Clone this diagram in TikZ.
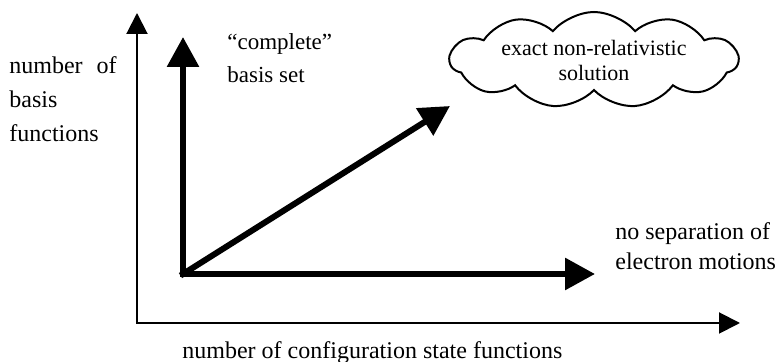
\documentclass[tikz,border=0pt]{standalone}
\usepackage{fontspec}
\setmainfont{Liberation Serif}
\usepackage{tikz}
\usetikzlibrary{arrows.meta,shapes.symbols}

\begin{document}
\begin{tikzpicture}[%
  x=0.5pt, y=-0.5pt,
  thinaxis/.style={line width=1pt,
    {Triangle[length=10.5pt,width=10.5pt]}-{Triangle[length=10.5pt,width=10.5pt]}},
  thickarrow/.style={line width=3pt, line cap=rect,
    -{Triangle[length=15pt,width=15.5pt]}},
  lbl/.style={inner sep=0pt, align=left, anchor=base west,
    font=\fontsize{12}{17}\selectfont}]
  \useasboundingbox (0,0) rectangle (778,362);
  % axes
  \coordinate (ytop) at (137,13);
  \coordinate (xend) at (740,323);
  \draw[thinaxis] (ytop) |- (xend);
  % the three directions
  \coordinate (origin) at (183,274);
  \coordinate (basis) at (183,37);
  \coordinate (correl) at (595,274);
  \coordinate (exact) at (450,106);
  \draw[thickarrow] (origin) -- (basis);
  \draw[thickarrow] (origin) -- (correl);
  \draw[thickarrow] (origin) -- (exact);
  % labels (base = baseline of the last line)
  \node[lbl] (ylabel) at (9,142) {number\,\, of\\basis\\functions};
  \node[lbl, font=\fontsize{11.5}{16.5}\selectfont]
    (complete) at (227,83) {“complete”\\basis set};
  \node[draw, line width=1pt, cloud, cloud puffs=11, cloud puff arc=100,
    cloud ignores aspect, minimum width=144pt, minimum height=48pt,
    inner sep=0pt, align=center, font=\fontsize{11}{12.5}\selectfont]
    (cloud) at (594,60) {exact non-relativistic\\solution};
  \node[lbl, font=\fontsize{12}{15}\selectfont]
    (nosep) at (615,270) {no separation of\\electron motions};
  \node[lbl] (xlabel) at (182,359) {number of configuration state functions};
\end{tikzpicture}
\end{document}
